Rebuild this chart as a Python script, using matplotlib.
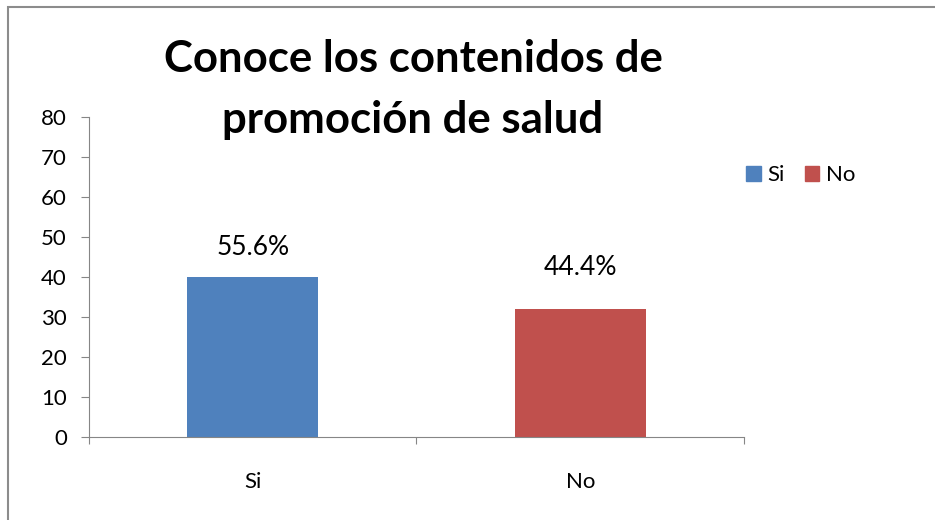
import numpy as np
import matplotlib.pyplot as plt
from matplotlib.patches import Rectangle, Patch

categorias = ["Si", "No"]
valores = [40, 32]
porcentajes = ["55.6%", "44.4%"]
colores = ["#4F81BD", "#C0504D"]
yticks = [0, 10, 20, 30, 40, 50, 60, 70, 80]

plt.rcParams['font.family'] = ['Lato', 'DejaVu Sans']

fig = plt.figure(figsize=(9.35, 5.2), dpi=100)
ax = fig.add_axes([0.0952, 0.1596, 0.7005, 0.6154])

x = np.arange(len(categorias))
bars = ax.bar(x, valores, width=0.4, color=colores)

ax.set_xlim(-0.5, 1.5)
ax.set_ylim(0, 80)
ax.set_yticks(yticks)
ax.set_xticks([-0.5, 0.5, 1.5])
ax.set_xticklabels([])
ax.set_xticks(x, minor=True)
ax.set_xticklabels(categorias, minor=True)

gris = "#868686"
for s in ["top", "right"]:
    ax.spines[s].set_visible(False)
for s in ["left", "bottom"]:
    ax.spines[s].set_color(gris)
ax.tick_params(axis="y", length=6, color=gris, labelsize=16, pad=10)
ax.tick_params(axis="x", which="major", length=5, color=gris)
ax.tick_params(axis="x", which="minor", length=0, labelsize=16, pad=25)

# etiquetas de datos (Excel las pone a alturas distintas)
desp = [30, 42]
for b, p, d in zip(bars, porcentajes, desp):
    ax.annotate(p, (b.get_x() + b.get_width() / 2, b.get_height()),
                xytext=(0, d * 0.72), textcoords="offset points",
                ha="center", va="center", fontsize=19)

fig.text(0.4417, 0.828, "Conoce los contenidos de\npromoción de salud",
         ha="center", va="center", fontsize=31.5, fontweight="bold",
         linespacing=1.62)

handles = [Patch(color=c) for c in colores]
fig.legend(handles, categorias, loc="center left", bbox_to_anchor=(0.777, 0.663),
           ncol=2, frameon=False, fontsize=16, handlelength=0.65,
           handleheight=0.65, handletextpad=0.3, columnspacing=0.9)

fig.patches.append(Rectangle((8 / 935, -0.1), 1.1, 1 - 7 / 520 + 0.1,
                             transform=fig.transFigure, fill=False,
                             edgecolor="#8c8c8c", linewidth=1.5))

plt.savefig("out.png", dpi=100)
plt.close()
